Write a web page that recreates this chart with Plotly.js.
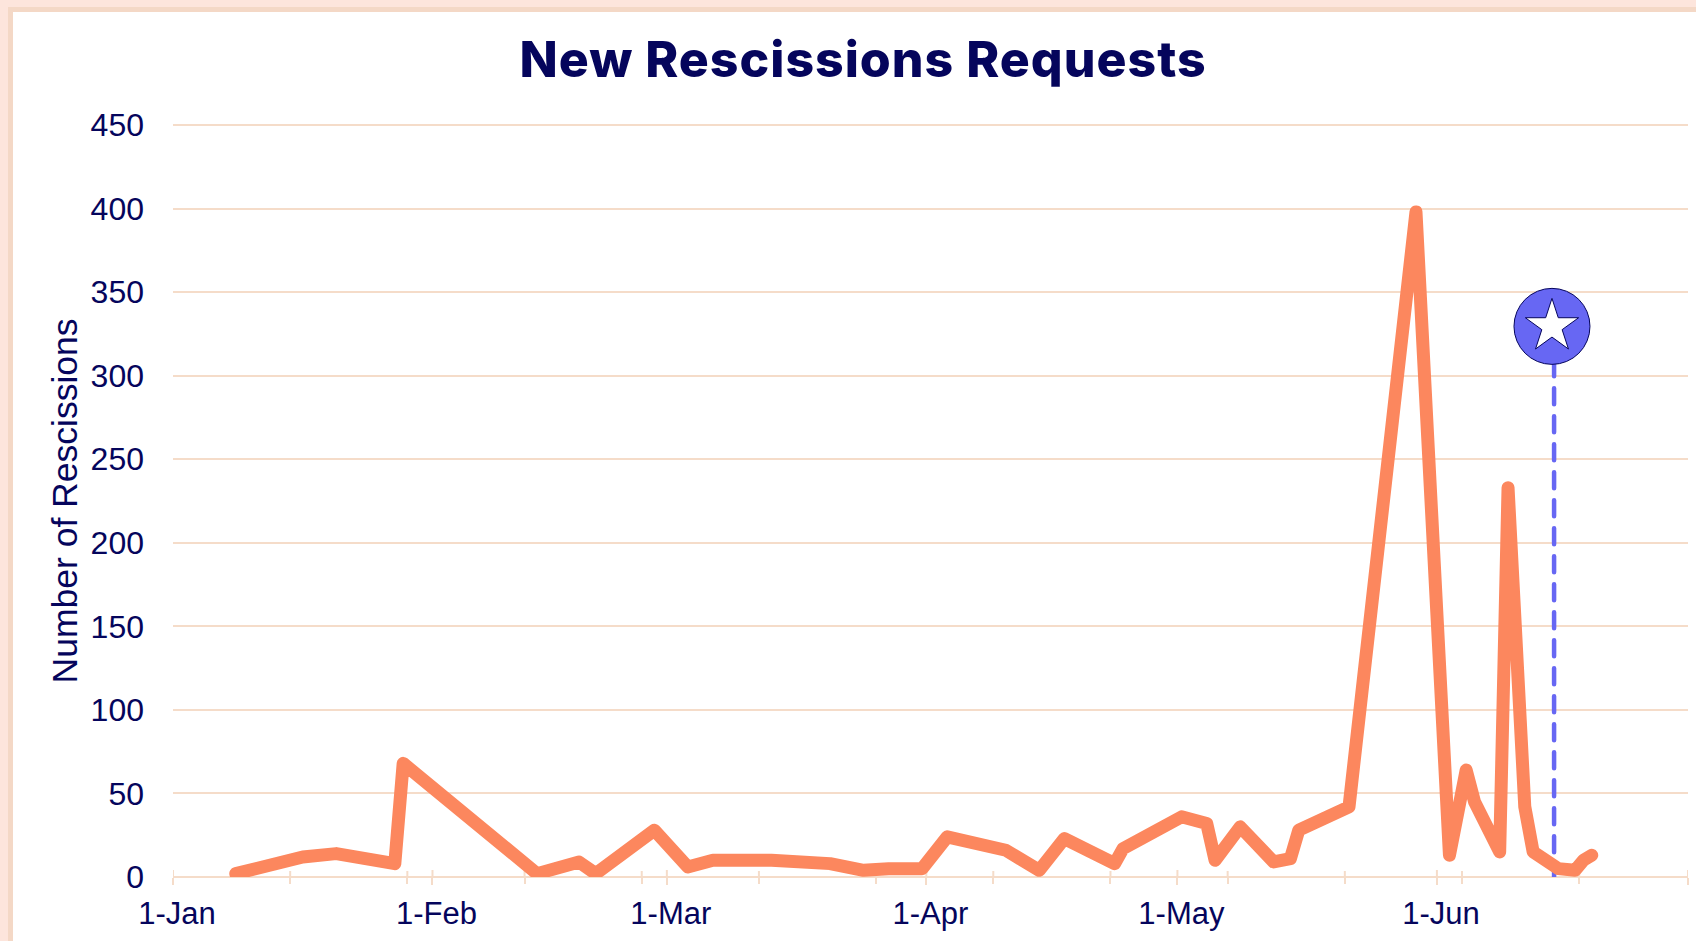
<!DOCTYPE html>
<html>
<head>
<meta charset="utf-8">
<script src="https://cdn.plot.ly/plotly-3.0.1.min.js"></script>
<style>
html,body{margin:0;padding:0;background:#fff;overflow:hidden}
#chart{width:1696px;height:941px}
.scatterlayer .js-line{stroke-linecap:round !important;stroke-linejoin:round !important}
.gtitle{letter-spacing:1px}
</style>
</head>
<body>
<div id="chart"></div>
<script>
const dates = ["2025-01-08 12:00","2025-01-16 12:00","2025-01-20 12:00","2025-01-27 12:00","2025-01-28 12:00",
"2025-02-13 12:00","2025-02-18 12:00","2025-02-20 12:00","2025-02-27 12:00","2025-03-03 12:00","2025-03-06 12:00",
"2025-03-13 12:00","2025-03-20 12:00","2025-03-24 12:00","2025-03-27 12:00","2025-03-31 12:00","2025-04-03 12:00",
"2025-04-10 12:00","2025-04-14 12:00","2025-04-17 12:00","2025-04-23 12:00","2025-04-24 12:00","2025-05-01 12:00",
"2025-05-04 12:00","2025-05-05 12:00","2025-05-08 12:00","2025-05-12 12:00","2025-05-14 12:00","2025-05-15 12:00",
"2025-05-21 12:00","2025-05-29 12:00","2025-06-02 12:00","2025-06-04 12:00","2025-06-05 12:00","2025-06-08 12:00",
"2025-06-09 12:00","2025-06-11 12:00","2025-06-12 12:00","2025-06-15 12:00","2025-06-17 12:00","2025-06-18 12:00","2025-06-19 12:00"];
const rescissions = [2,12,14,8,68,2,9,2,28,6,10,10,8,4,5,5,24,16,4,23,8,17,36,32,10,30,9,11,28,42,398,13,64,45,15,233,42,15,5,4,10,13];
const monthTicks = ["2025-01-01","2025-02-01","2025-03-01","2025-04-01","2025-05-01","2025-06-01","2025-07-01"];
const monthLabels = ["1-Jan","1-Feb","1-Mar","1-Apr","1-May","1-Jun",""];
const fortnightTicks = ["2025-01-15","2025-01-29","2025-02-12","2025-02-26","2025-03-12","2025-03-26","2025-04-09","2025-04-23","2025-05-07","2025-05-21","2025-06-04","2025-06-18"];
const yTicks = [0,50,100,150,200,250,300,350,400,450];
const eventX = ["2025-06-14 18:00"];
const eventLineX = ["2025-06-15 00:00","2025-06-15 00:00"];
const eventLineY = [-2,310];
const eventY = [329.5];

const W=1696,H=941,L=173,R=8,T=125,B=64;
const NAVY="#05055c",ORANGE="#fc875e",BLUE="#6767f3",GRID="#f5dcc9",PINK="#fde5dc",TAN="#f4d8c6";
const px=v=>(v-L)/(W-L-R), py=v=>1-(v-T)/(H-T-B);
const rect=(a,b,c,d,col)=>({type:"rect",xref:"paper",yref:"paper",x0:px(a),x1:px(c),y0:py(b),y1:py(d),fillcolor:col,line:{width:0},layer:"below"});
const stub=(x,len)=>({type:"line",xref:"x",yref:"paper",x0:x,x1:x,y0:0,y1:len/(H-T-B),line:{color:GRID,width:2},layer:"below"});
const edge=y=>({type:"line",xref:"paper",yref:"paper",x0:0,x1:1,y0:y,y1:y,line:{color:GRID,width:2},layer:"below"});

const traces=[
 {x:eventLineX,y:eventLineY,mode:"lines",cliponaxis:false,line:{color:BLUE,width:4.5,dash:"16px,12px"},hoverinfo:"skip",showlegend:false},
 {x:dates,y:rescissions,mode:"lines",line:{color:ORANGE,width:13,shape:"linear"},hoverinfo:"x+y",showlegend:false},
 {x:eventX,y:eventY,mode:"markers",cliponaxis:false,marker:{symbol:"circle",size:76,color:BLUE,line:{color:NAVY,width:1}},hoverinfo:"skip",showlegend:false},
 {x:eventX,y:eventY,mode:"markers",cliponaxis:false,marker:{symbol:"star",size:40,color:"#ffffff",line:{color:NAVY,width:1}},hoverinfo:"skip",showlegend:false}
];
const layout={
 width:W,height:H,
 paper_bgcolor:"#ffffff",plot_bgcolor:"rgba(0,0,0,0)",
 margin:{l:L,r:R,t:T,b:B,pad:0},
 showlegend:false,
 font:{family:"'Liberation Sans',Arial,sans-serif",color:NAVY,size:32},
 title:{text:"New Rescissions Requests",font:{family:"Inter,sans-serif",size:50,weight:800,color:NAVY},xref:"paper",x:(863-L)/(W-L-R),xanchor:"center",yref:"container",y:1-59/H,yanchor:"middle"},
 xaxis:{type:"date",range:["2025-01-01","2025-07-01"],tickmode:"array",tickvals:monthTicks,ticktext:monthLabels,
  ticks:"outside",ticklen:7,tickwidth:2,tickcolor:GRID,showgrid:false,zeroline:false,showline:false,
  ticklabelshift:4,ticklabelstandoff:2,tickfont:{size:31,color:NAVY},
  minor:{tickmode:"array",tickvals:fortnightTicks,ticks:"outside",ticklen:6,tickwidth:2,tickcolor:GRID,showgrid:false}},
 yaxis:{range:[0,450],tickmode:"array",tickvals:yTicks,ticks:"",showline:false,zeroline:false,showgrid:true,gridcolor:GRID,gridwidth:2,
  ticklabelstandoff:28,tickfont:{size:32,color:NAVY},
  title:{text:"Number of Rescissions",standoff:2,font:{size:35.5,color:NAVY}}},
 shapes:[
  rect(0,0,W,7,PINK),rect(0,0,8,H,PINK),rect(8,7,W,12,TAN),rect(8,7,13,H,TAN),
  edge(0),edge(1),
  ...monthTicks.map(d=>stub(d,7)),...fortnightTicks.map(d=>stub(d,6))
 ]
};
Plotly.newPlot("chart",traces,layout,{displayModeBar:false,responsive:false});
</script>
</body>
</html>
